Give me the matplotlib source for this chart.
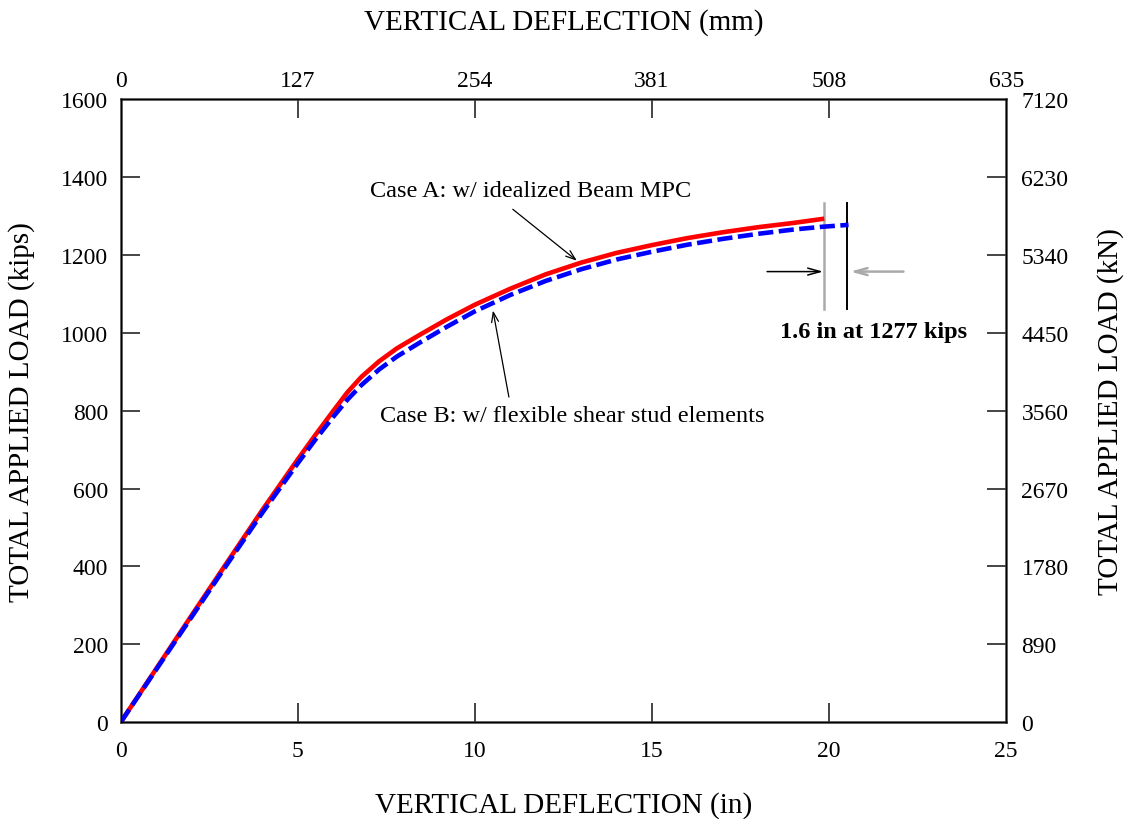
import numpy as np
import matplotlib
matplotlib.use("Agg")
from matplotlib import pyplot as plt

plt.rcParams['font.family'] = ['Liberation Serif', 'DejaVu Serif']

# Case A: idealized beam MPC (in, kips)
defl_a = [0, 1, 2, 3, 4, 5, 5.5, 6, 6.4, 6.8, 7.3, 7.8, 8.45, 9.2, 10, 11, 12, 13, 14, 15, 16, 17, 18, 19, 19.8]
load_a = [0, 137, 274, 410, 545, 675, 738, 799, 847, 887, 927, 960, 995, 1034, 1072, 1113, 1150, 1180, 1205,
          1225, 1243, 1258, 1271, 1282, 1292]

# Case B: flexible shear stud elements
defl_b = [0, 1, 2, 3, 4, 5, 5.5, 6, 6.4, 6.8, 7.3, 7.8, 8.45, 9.2, 10, 11, 12, 13, 14, 15, 16, 17, 18, 19, 19.8, 20.55]
load_b = [0, 135, 270, 405, 538, 665, 726, 784, 828, 866, 906, 939, 975, 1015, 1055, 1097, 1133, 1163, 1188,
          1208, 1226, 1241, 1254, 1265, 1272, 1277]

kip_ticks = [0, 200, 400, 600, 800, 1000, 1200, 1400, 1600]
kn_labels = ['0', '890', '1780', '2670', '3560', '4450', '5340', '6230', '7120']
in_ticks = [0, 5, 10, 15, 20, 25]
mm_labels = ['0', '127', '254', '381', '508', '635']

fig = plt.figure(figsize=(11.28, 8.2), dpi=100)
ax = fig.add_axes([0.107, 0.118, 0.785, 0.760])

ax.plot(defl_a, load_a, color='red', lw=3.3, solid_joinstyle='round', zorder=3)
ax.plot(defl_b, load_b, color='blue', lw=3.3, dashes=(3.3, 1.2), zorder=4)

tick_kw = dict(direction='in', length=14, width=1.4, labelsize=17, color='#444444')
ax.set_xlim(0, 25)
ax.set_ylim(0, 1600)
ax.set_xticks(in_ticks)
ax.set_yticks(kip_ticks)
ax.tick_params(axis='x', pad=13, **tick_kw)
ax.tick_params(axis='y', pad=9, **tick_kw)
for s in ax.spines.values():
    s.set_color('#444444')
    s.set_linewidth(1.8)
ax.set_xlabel('VERTICAL DEFLECTION (in)', fontsize=21)
ax.xaxis.set_label_coords(0.5, -0.132)
ax.xaxis.label.set_va('center')
ax.set_ylabel('TOTAL APPLIED LOAD (kips)', fontsize=21)
ax.yaxis.set_label_coords(-0.112, 0.5)
ax.yaxis.label.set_va('center')

axr = ax.twinx()
axr.set_ylim(0, 1600)
axr.set_yticks(kip_ticks)
axr.set_yticklabels(kn_labels)
axr.tick_params(axis='y', pad=11, **tick_kw)
axr.set_ylabel('TOTAL APPLIED LOAD (kN)', fontsize=21)
axr.yaxis.set_label_coords(1.1175, 0.5)
axr.yaxis.label.set_va('center')

axt = ax.twiny()
axt.set_xlim(0, 25)
axt.set_xticks(in_ticks)
axt.set_xticklabels(mm_labels)
axt.tick_params(axis='x', pad=6, **tick_kw)
axt.set_xlabel('VERTICAL DEFLECTION (mm)', fontsize=21)
axt.xaxis.set_label_coords(0.5, 1.125)
axt.xaxis.label.set_va('center')

# tick marks at the corners sit on the frame, hide them
for a in (ax.xaxis, ax.yaxis, axr.yaxis, axt.xaxis):
    ticks = a.get_major_ticks()
    for t in (ticks[0], ticks[-1]):
        t.tick1line.set_visible(False)
        t.tick2line.set_visible(False)

# case labels
arrow_kw = dict(arrowstyle='->,head_length=0.7,head_width=0.25', color='black', lw=0.9,
                shrinkA=0, shrinkB=0)
ax.text(7.03, 1365, 'Case A: w/ idealized Beam MPC', fontsize=17.5, va='center', ha='left')
ax.annotate('', xy=(12.88, 1185), xytext=(11.07, 1317), arrowprops=arrow_kw)
ax.text(7.32, 787, 'Case B: w/ flexible shear stud elements', fontsize=17.5, va='center', ha='left')
ax.annotate('', xy=(10.51, 1057), xytext=(10.96, 835), arrowprops=arrow_kw)

# deflection difference marker
ax.plot([19.86, 19.86], [1062, 1332], color='#aaaaaa', lw=1.8)
ax.plot([20.5, 20.5], [1062, 1332], color='black', lw=1.4)
ax.annotate('', xy=(19.83, 1157), xytext=(18.25, 1157),
            arrowprops=dict(arrowstyle='->,head_length=0.9,head_width=0.25', color='black',
                            lw=1.1, shrinkA=0, shrinkB=0))
ax.annotate('', xy=(20.6, 1157), xytext=(22.1, 1157),
            arrowprops=dict(arrowstyle='->,head_length=0.9,head_width=0.25', color='#aaaaaa',
                            lw=1.8, shrinkA=0, shrinkB=0))
ax.text(21.27, 1004, '1.6 in at 1277 kips', fontsize=17.5, fontweight='bold',
        ha='center', va='center')

fig.savefig('out.png', dpi=100)
